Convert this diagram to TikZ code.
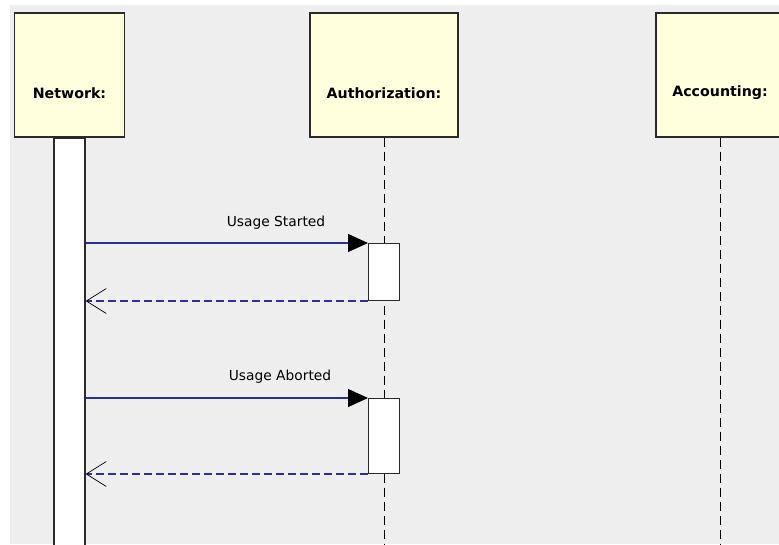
\documentclass[tikz,border=0pt]{standalone}
\usepackage{fontspec}
\setmainfont{DejaVu Sans}
\usepackage{xcolor}
\usepackage{tikz}
\usetikzlibrary{calc,arrows.meta}
\definecolor{bg}{HTML}{EEEEEE}
\definecolor{headfill}{HTML}{FFFFDD}
\definecolor{frame}{HTML}{2A2A2A}
\definecolor{msgblue}{HTML}{2A3192}
\tikzset{
  head/.style={draw=frame, fill=headfill, line width=1.3pt, inner sep=0pt, minimum height=124pt},
  headlab/.style={text=black, font=\fontsize{14.2}{16}\selectfont\bfseries, inner sep=0pt},
  bar/.style={draw=frame, fill=white, line width=1.3pt, inner sep=0pt, minimum width=31pt},
  act/.style={draw=frame, fill=white, line width=1.0pt, inner sep=0pt, minimum width=31pt},
  life/.style={draw=black, line width=1.0pt, dash pattern=on 9pt off 5pt},
  call/.style={draw=msgblue, line width=1.1pt, -{Triangle[length=20pt,width=18pt,black]}},
  reply/.style={draw=msgblue, line width=1.1pt, dash pattern=on 8pt off 4pt, -{Straight Barb[length=20pt,width=25pt,black,line width=0.7pt]}},
  msg/.style={text=black, font=\fontsize{13.8}{16}\selectfont, inner sep=0pt},
}
\begin{document}
\begin{tikzpicture}[x=1pt,y=-1pt]
  \useasboundingbox (0,0) rectangle (779,544);
  \clip (0,0) rectangle (779,544);
  \fill[white] (0,0) rectangle (779,544);
  \fill[bg] (10,5) rectangle (779,544);

  % lifeline heads
  \node[head, minimum width=110pt] (net) at (69.5,75) {};
  \node[head, minimum width=148pt] (auth) at (384,75) {};
  \node[head, minimum width=128pt] (acc) at (720,75) {};
  \node[headlab] (netlab) at ([yshift=-18pt]net.center) {Network:};
  \node[headlab] (authlab) at ([yshift=-18pt]auth.center) {Authorization:};
  \node[headlab] (acclab) at ([yshift=-18pt]acc.center) {Accounting:};

  % lifelines
  \draw[life] (auth.south) -- ++(0,420);
  \draw[life] (acc.south) -- ++(0,420);
  \node[bar, minimum height=420pt, anchor=north] (netbar) at (net.south) {};

  % activations
  \node[act, minimum height=57pt, anchor=north] (act1) at (384,243) {};
  \node[act, minimum height=75pt, anchor=north] (act2) at (384,398) {};

  % messages
  \draw[call] (act1.north west -| netbar.east) -- (act1.north west);
  \node[msg, anchor=base] (m1) at ([xshift=-92pt,yshift=17pt]act1.north west) {Usage Started};
  \draw[reply] (act1.south west) -- (act1.south west -| netbar.east);

  \draw[call] (act2.north west -| netbar.east) -- (act2.north west);
  \node[msg, anchor=base] (m2) at ([xshift=-88pt,yshift=18pt]act2.north west) {Usage Aborted};
  \draw[reply] (act2.south west) -- (act2.south west -| netbar.east);
\end{tikzpicture}
\end{document}
